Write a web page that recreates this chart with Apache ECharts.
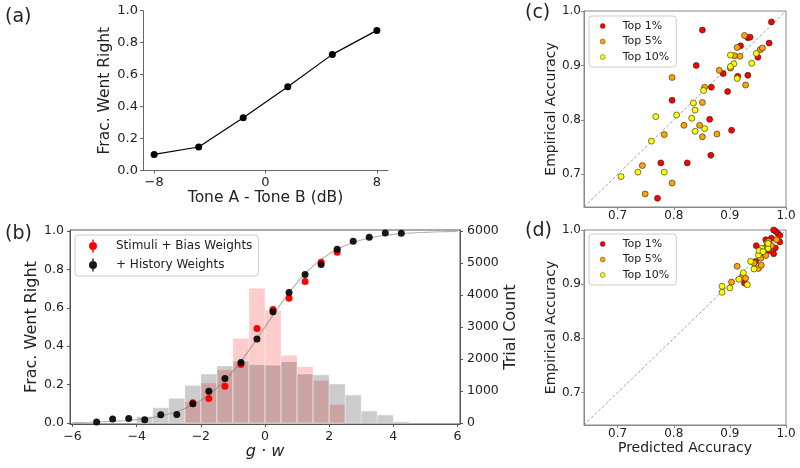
<!DOCTYPE html>
<html>
<head>
<meta charset="utf-8">
<script src="https://cdn.jsdelivr.net/npm/echarts@6/dist/echarts.min.js"></script>
<style>html,body{margin:0;padding:0;background:#fff}#chart{width:800px;height:468px}</style>
</head>
<body>
<div id="chart"></div>
<script>
// (a) psychometric curve
var toneDiff = [-8, -4.8, -1.6, 1.6, 4.8, 8];
var fracRightA = [0.102, 0.148, 0.331, 0.525, 0.727, 0.877];

// (b) histograms (bin left edges, counts)
var binWidth = 0.5;
var binLeftAll = [-4, -3.5, -3, -2.5, -2, -1.5, -1, -0.5, 0, 0.5, 1, 1.5, 2, 2.5, 3, 3.5, 4];
var countAll = [200, 480, 770, 1175, 1530, 1780, 1935, 1830, 1810, 1920, 1535, 1505, 1220, 875, 375, 250, 40];
var binLeftStim = [-2.5, -2, -1.5, -1, -0.5, 0, 0.5, 1, 1.5, 2];
var countStim = [655, 1250, 1660, 2645, 4210, 3520, 2120, 1760, 1330, 573];

// (b) binned points
var gwBias = [-2.25, -1.75, -1.25, -0.75, -0.25, 0.25, 0.75, 1.25, 1.75, 2.25];
var fracBias = [0.106, 0.128, 0.192, 0.305, 0.492, 0.591, 0.65, 0.737, 0.837, 0.889];
var gwHist = [-5.25, -4.75, -4.25, -3.75, -3.25, -2.75, -2.25, -1.75, -1.25, -0.75, -0.25, 0.25, 0.75, 1.25, 1.75, 2.25, 2.75, 3.25, 3.75, 4.25];
var fracHist = [0.005, 0.021, 0.023, 0.017, 0.043, 0.045, 0.10, 0.165, 0.232, 0.315, 0.438, 0.579, 0.679, 0.773, 0.825, 0.905, 0.946, 0.967, 0.99, 0.988];

// (b) gray curve
var curveX = [-6, -5.5, -5, -4.5, -4, -3.5, -3, -2.5, -2, -1.5, -1, -0.5, 0, 0.5, 1, 1.5, 2, 2.5, 3, 3.5, 4, 4.5, 5, 5.5, 6];
var curveY = [0.002, 0.004, 0.007, 0.011, 0.018, 0.029, 0.047, 0.076, 0.119, 0.182, 0.269, 0.378, 0.5, 0.622, 0.731, 0.818, 0.881, 0.924, 0.953, 0.971, 0.982, 0.989, 0.993, 0.996, 0.998];

// (c) predicted vs empirical
var cTop1 = [[0.851,0.965],[0.974,0.980],[0.919,0.936],[0.932,0.951],[0.936,0.952],[0.970,0.941],[0.950,0.915],[0.840,0.900],[0.888,0.885],[0.914,0.880],[0.932,0.882],[0.867,0.860],[0.896,0.852],[0.797,0.836],[0.864,0.801],[0.903,0.781],[0.866,0.735],[0.777,0.721],[0.824,0.721],[0.771,0.656]];
var cTop5 = [[0.926,0.955],[0.913,0.933],[0.918,0.917],[0.908,0.918],[0.901,0.895],[0.881,0.891],[0.954,0.929],[0.958,0.932],[0.797,0.878],[0.855,0.860],[0.928,0.864],[0.851,0.832],[0.818,0.790],[0.846,0.790],[0.783,0.773],[0.877,0.774],[0.851,0.769],[0.744,0.716],[0.797,0.684],[0.749,0.664]];
var cTop10 = [[0.901,0.919],[0.907,0.903],[0.901,0.898],[0.947,0.922],[0.939,0.904],[0.913,0.876],[0.853,0.854],[0.835,0.831],[0.838,0.818],[0.805,0.809],[0.832,0.803],[0.768,0.806],[0.855,0.784],[0.838,0.779],[0.760,0.761],[0.736,0.704],[0.783,0.704],[0.706,0.696]];

// (d)
var dTop1 = [[0.947,0.971],[0.981,0.998],[0.978,1.0],[0.985,0.994],[0.964,0.982],[0.974,0.985],[0.989,0.990],[0.989,0.978],[0.981,0.967],[0.961,0.956],[0.978,0.956],[0.970,0.962],[0.926,0.902],[0.946,0.942],[0.970,0.972],[0.956,0.956]];
var dTop5 = [[0.913,0.933],[0.903,0.904],[0.922,0.913],[0.928,0.911],[0.943,0.939],[0.951,0.929],[0.956,0.935],[0.964,0.953],[0.966,0.977],[0.983,0.982],[0.974,0.971],[0.955,0.948],[0.961,0.966],[0.969,0.979]];
var dTop10 = [[0.886,0.896],[0.886,0.885],[0.900,0.893],[0.916,0.909],[0.924,0.921],[0.931,0.899],[0.937,0.942],[0.943,0.928],[0.951,0.954],[0.957,0.966],[0.952,0.962],[0.968,0.966],[0.968,0.975],[0.959,0.960]];
var diagLine = [0.64, 1.0];

var accTicks = [0.7, 0.8, 0.9, 1.0];
var fracTicks = [0, 0.2, 0.4, 0.6, 0.8, 1.0];
var countTicks = [0, 1000, 2000, 3000, 4000, 5000, 6000];

var FONT = 'DejaVu Sans';
var TXT = '#222';

function minus(v) { return String(v).replace('-', '\u2212'); }
function oneDec(v) { return v.toFixed(1); }
function plain(v) { return String(v); }
function zip(xs, ys) { return xs.map(function (x, i) { return [x, ys[i]]; }); }
function bins(lefts, counts) { return lefts.map(function (x, i) { return [x, x + binWidth, counts[i]]; }); }

function valAxis(o) {
    var ax = {
        type: 'value', gridIndex: o.grid, min: o.min, max: o.max,
        position: o.position,
        splitLine: { show: false },
        axisLine: { show: o.line !== false, onZero: false, lineStyle: { color: o.lineColor || '#555', width: 1 } },
        axisTick: { show: !!o.ticks, inside: false, length: 3, lineStyle: { color: o.lineColor || '#555' }, customValues: o.ticks },
        axisLabel: { show: !!o.ticks, customValues: o.ticks, margin: o.margin, color: TXT, fontFamily: FONT, fontSize: o.fs || 12, formatter: o.fmt },
        name: o.name, nameLocation: 'middle', nameGap: o.gap,
        nameTextStyle: { color: TXT, fontFamily: FONT, fontSize: o.nfs || 14, fontStyle: o.italic ? 'italic' : 'normal' }
    };
    return ax;
}

function histRender(fill) {
    return function (params, api) {
        var p0 = api.coord([api.value(0), api.value(2)]);
        var p1 = api.coord([api.value(1), 0]);
        return {
            type: 'rect',
            shape: { x: p0[0], y: p0[1], width: p1[0] - p0[0], height: p1[1] - p0[1] },
            style: { fill: fill, stroke: 'rgba(255,255,255,0.45)', lineWidth: 0.8 }
        };
    };
}

function topSeries(name, color, data, gi) {
    return {
        name: name, type: 'scatter', xAxisIndex: gi, yAxisIndex: gi === 2 ? 3 : 4,
        symbolSize: 6, data: data, z: 4,
        itemStyle: { color: color, borderColor: '#222', borderWidth: 0.6, opacity: 1 }
    };
}

function topLegend(top) {
    return {
        left: 589, top: top, orient: 'vertical', padding: [4, 7, 4, 11],
        itemWidth: 30, itemHeight: 5, itemGap: 3.5,
        borderColor: '#ccc', borderWidth: 1, borderRadius: 3, backgroundColor: 'rgba(255,255,255,0.8)',
        itemStyle: { borderWidth: 0.4 },
        textStyle: { color: TXT, fontFamily: FONT, fontSize: 11, lineHeight: 12 },
        data: ['Top 1%', 'Top 5%', 'Top 10%']
    };
}

var errIcon = 'path://M-0.7,-6.5L0.7,-6.5L0.7,6.5L-0.7,6.5Z M-4,0A4,4 0 1,1 4,0A4,4 0 1,1 -4,0Z';

var option = {
    animation: false,
    backgroundColor: '#fff',
    textStyle: { fontFamily: FONT },
    grid: [
        { left: 143, top: 10.7, width: 245, height: 160 },
        { left: 70, top: 230, width: 390, height: 194, show: true, borderColor: '#555', borderWidth: 1 },
        { left: 584, top: 11, width: 202, height: 196, show: true, borderColor: '#888', borderWidth: 1 },
        { left: 584, top: 230, width: 202, height: 195, show: true, borderColor: '#888', borderWidth: 1 }
    ],
    xAxis: [
        valAxis({ grid: 0, min: -8.8, max: 8.8, ticks: [-8, 0, 8], fmt: minus, margin: 5, fs: 13, name: 'Tone A - Tone B (dB)', gap: 17, nfs: 15.5, lineColor: '#666' }),
        valAxis({ grid: 1, min: -6.08, max: 6.08, ticks: [-6, -4, -2, 0, 2, 4, 6], fmt: minus, margin: 6, fs: 12.5, name: 'g \u00b7 w', gap: 9, nfs: 16, italic: true }),
        valAxis({ grid: 2, min: 0.64, max: 1.0, ticks: accTicks, fmt: oneDec, margin: 3, fs: 12, lineColor: '#888' }),
        valAxis({ grid: 3, min: 0.64, max: 1.0, ticks: accTicks, fmt: oneDec, margin: 3, fs: 12, name: 'Predicted Accuracy', gap: 15, nfs: 14, lineColor: '#888' })
    ],
    yAxis: [
        valAxis({ grid: 0, min: 0, max: 1, ticks: fracTicks, fmt: oneDec, margin: 5, fs: 13, name: 'Frac. Went Right', gap: 28, nfs: 15.5, lineColor: '#666' }),
        valAxis({ grid: 1, min: -0.005, max: 1.005, ticks: fracTicks, fmt: oneDec, margin: 6, fs: 12.5, name: 'Frac. Went Right', gap: 30.5, nfs: 16 }),
        valAxis({ grid: 1, min: -30, max: 6030, ticks: countTicks, fmt: plain, position: 'right', margin: 7, fs: 12.5, name: 'Trial Count', gap: 43, nfs: 16 }),
        valAxis({ grid: 2, min: 0.64, max: 1.0, ticks: accTicks, fmt: oneDec, margin: 3, fs: 12, name: 'Empirical Accuracy', gap: 23, nfs: 14, lineColor: '#888' }),
        valAxis({ grid: 3, min: 0.64, max: 1.0, ticks: accTicks, fmt: oneDec, margin: 3, fs: 12, name: 'Empirical Accuracy', gap: 23, nfs: 14, lineColor: '#888' })
    ],
    legend: [
        {
            left: 75, top: 235, orient: 'vertical', padding: [4.5, 6, 4.5, 14],
            itemWidth: 36, itemHeight: 13, itemGap: 6,
            borderColor: '#ccc', borderWidth: 1, borderRadius: 3, backgroundColor: 'rgba(255,255,255,0.8)',
            textStyle: { color: TXT, fontFamily: FONT, fontSize: 12 },
            data: [{ name: 'Stimuli + Bias Weights', icon: errIcon }, { name: '+ History Weights', icon: errIcon }]
        },
        topLegend(16),
        topLegend(234)
    ],
    graphic: [
        { type: 'text', left: 5, top: 8, style: { text: '(a)', fontSize: 19, fontFamily: FONT, fill: TXT } },
        { type: 'text', left: 5, top: 225, style: { text: '(b)', fontSize: 19, fontFamily: FONT, fill: TXT } },
        { type: 'text', left: 525, top: 4, style: { text: '(c)', fontSize: 19, fontFamily: FONT, fill: TXT } },
        { type: 'text', left: 525, top: 222, style: { text: '(d)', fontSize: 19, fontFamily: FONT, fill: TXT } }
    ],
    series: [
        // (a)
        {
            type: 'line', xAxisIndex: 0, yAxisIndex: 0, data: zip(toneDiff, fracRightA),
            symbol: 'circle', symbolSize: 7, color: '#000',
            lineStyle: { color: '#000', width: 1.2 }, itemStyle: { color: '#000' }
        },
        // (b) histograms
        {
            type: 'custom', xAxisIndex: 1, yAxisIndex: 2, z: 1,
            renderItem: histRender('rgba(255,0,0,0.2)'), encode: { x: [0, 1], y: 2 },
            data: bins(binLeftStim, countStim)
        },
        {
            type: 'custom', xAxisIndex: 1, yAxisIndex: 2, z: 1,
            renderItem: histRender('rgba(0,0,0,0.2)'), encode: { x: [0, 1], y: 2 },
            data: bins(binLeftAll, countAll)
        },
        {
            type: 'line', xAxisIndex: 1, yAxisIndex: 1, z: 2, data: zip(curveX, curveY),
            smooth: true, symbol: 'none', lineStyle: { color: 'rgba(120,120,120,0.55)', width: 1.2 }
        },
        {
            name: 'Stimuli + Bias Weights', type: 'scatter', xAxisIndex: 1, yAxisIndex: 1, z: 3,
            symbolSize: 7, data: zip(gwBias, fracBias), itemStyle: { color: '#ff0000', opacity: 1 }
        },
        {
            name: '+ History Weights', type: 'scatter', xAxisIndex: 1, yAxisIndex: 1, z: 4,
            symbolSize: 7, data: zip(gwHist, fracHist), itemStyle: { color: '#000', opacity: 0.9 }
        },
        // (c)
        {
            type: 'line', xAxisIndex: 2, yAxisIndex: 3, z: 2, symbol: 'none',
            data: [[diagLine[0], diagLine[0]], [diagLine[1], diagLine[1]]],
            lineStyle: { color: '#888', width: 0.8, type: [3, 2] }
        },
        topSeries('Top 1%', '#ff0000', cTop1, 2),
        topSeries('Top 5%', '#ffa500', cTop5, 2),
        topSeries('Top 10%', '#ffff00', cTop10, 2),
        // (d)
        {
            type: 'line', xAxisIndex: 3, yAxisIndex: 4, z: 2, symbol: 'none',
            data: [[diagLine[0], diagLine[0]], [diagLine[1], diagLine[1]]],
            lineStyle: { color: '#888', width: 0.8, type: [3, 2] }
        },
        topSeries('Top 1%', '#ff0000', dTop1, 3),
        topSeries('Top 5%', '#ffa500', dTop5, 3),
        topSeries('Top 10%', '#ffff00', dTop10, 3)
    ]
};

var myChart = echarts.init(document.getElementById('chart'), null, { renderer: 'canvas' });
myChart.setOption(option);
</script>
</body>
</html>
